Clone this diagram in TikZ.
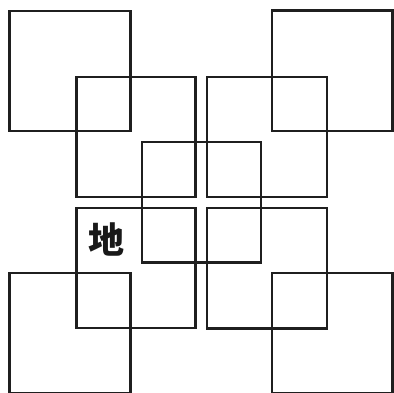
\documentclass[tikz,border=0pt]{standalone}
\usepackage{fontspec}
\newfontfamily\cjk{Noto Sans CJK SC}
\begin{document}
\begin{tikzpicture}[x=1pt,y=-1pt,
  sq/.style={draw=black!88,line width=2.8pt}]
\useasboundingbox (0,0) rectangle (394,393);
% big corner squares
\draw[sq] (9.5,11) rectangle (130.5,131);
\draw[sq] (272,10.5) rectangle (392.5,131);
\draw[sq] (9.5,273) rectangle (130.5,393.5);
\draw[sq] (272,273) rectangle (392.5,393.5);
% medium squares
\draw[sq] (76.5,77) rectangle (195.5,197);
\draw[sq] (207,77) rectangle (327,197);
\draw[sq] (76.5,208) rectangle (195.5,328);
\draw[sq] (207,208) rectangle (327,328.5);
% centre square
\draw[sq] (142,142) rectangle (261,262.5);
\node[text=black!90] (di) at (106.5,239) {\cjk\bfseries\fontsize{36}{36}\selectfont 地};
\end{tikzpicture}
\end{document}
